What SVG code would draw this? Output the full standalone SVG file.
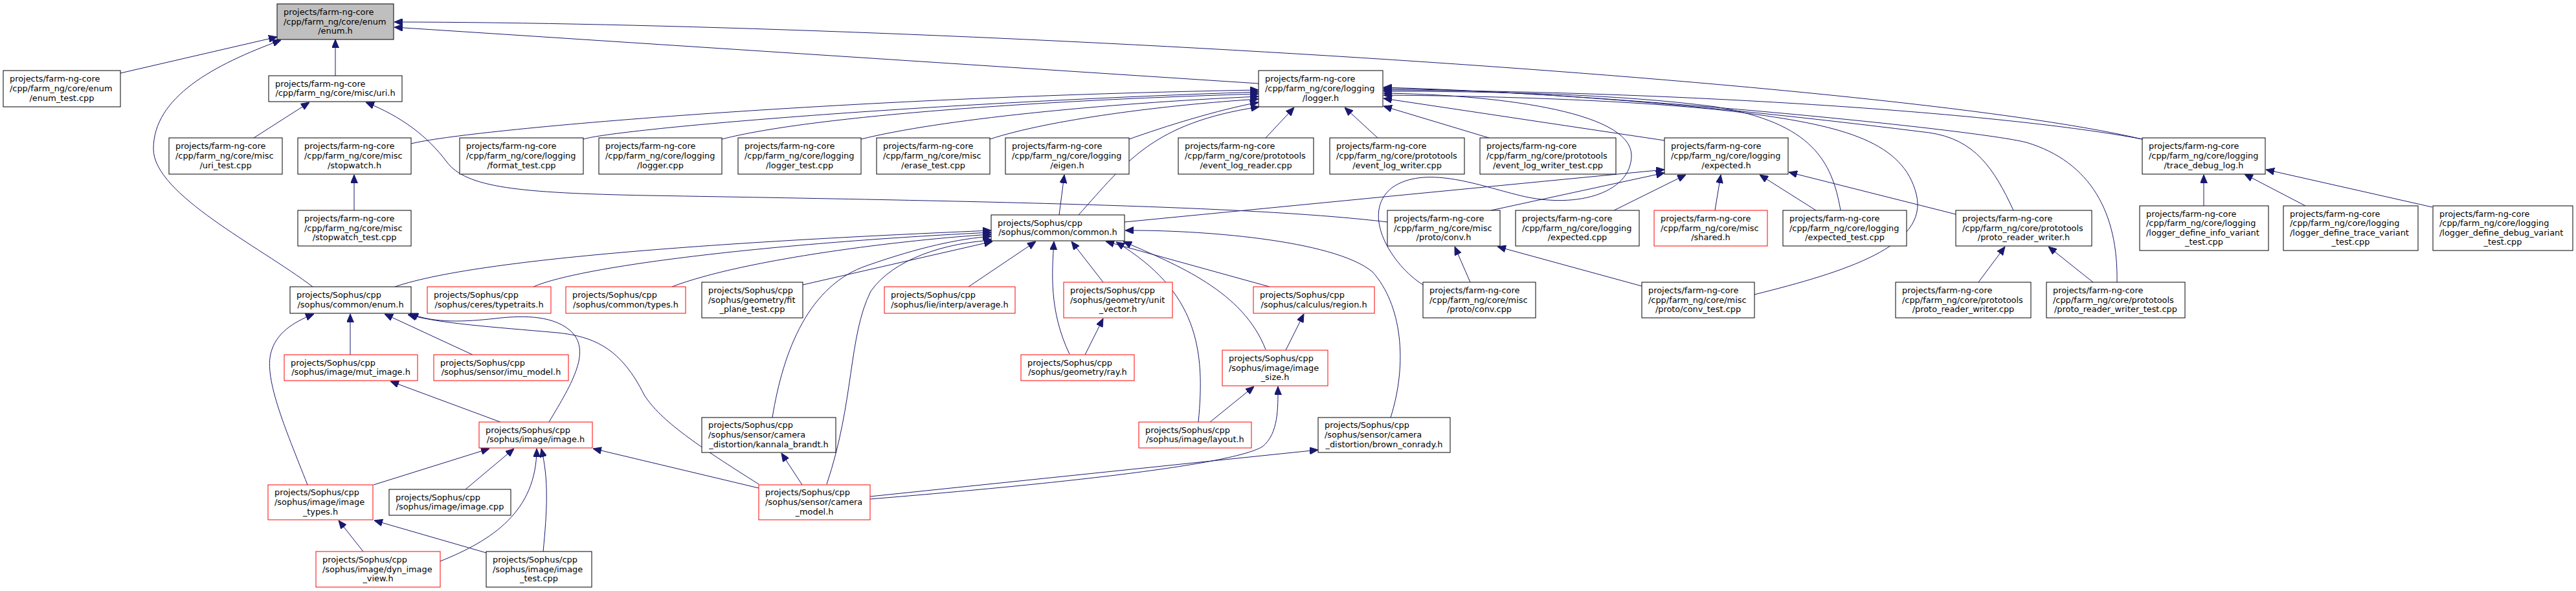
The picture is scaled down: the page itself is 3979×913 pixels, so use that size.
<svg xmlns="http://www.w3.org/2000/svg" width="3979" height="913" viewBox="0 0 3979 913">
<style>
.n rect{fill:#fff;stroke:#000;stroke-width:1}
.n.r rect{stroke:#ff0000}
.n.g rect{fill:#bfbfbf}
.n text{font-family:"DejaVu Sans",Verdana,sans-serif;font-size:12.9px;fill:#000}
.n text.c{text-anchor:middle}
#edges path{fill:none;stroke:#191970;stroke-width:1;marker-end:url(#ah)}
</style>
<defs>
<marker id="ah" viewBox="0 0 13 11" refX="13" refY="5.5" markerWidth="13" markerHeight="11" markerUnits="userSpaceOnUse" orient="auto"><path d="M0,0 L13,5.5 L0,11 z" fill="#191970" stroke="#191970" stroke-width="1"/></marker>
</defs>
<rect x="0" y="0" width="3979" height="913" fill="#fff"/>
<g id="edges">
<path d="M186,113 L428,57"/>
<path d="M518,117 L518,61"/>
<path d="M483,443 C400,380 237,300 237,230 C237,150 330,100 434,62"/>
<path d="M1944,129 L609,42"/>
<path d="M3309,215 C2900,120 1400,35 609,34"/>
<path d="M3309,215 C3100,175 2600,141 2137,139"/>
<path d="M635,222 C720,200 1300,150 1944,139"/>
<path d="M901,215 C950,200 1400,160 1944,142"/>
<path d="M1115,215 C1250,180 1600,155 1944,145"/>
<path d="M1330,215 C1450,185 1700,160 1944,149"/>
<path d="M1529,215 C1620,185 1800,162 1944,153"/>
<path d="M1744,215 C1800,195 1880,170 1944,158"/>
<path d="M1666,332 C1740,250 1780,190 1945,165"/>
<path d="M1955,213 L1999,166"/>
<path d="M2128,213 L2077,166"/>
<path d="M2300,213 L2137,164"/>
<path d="M2571,217 L2137,152"/>
<path d="M2198,440 C2150,410 2100,330 2150,290 C2200,255 2280,285 2340,300 C2430,325 2520,300 2520,240 C2520,170 2300,146 2137,144"/>
<path d="M2843,325 C2830,250 2800,190 2650,165 C2500,145 2300,141 2137,141"/>
<path d="M2710,455 C2850,420 2980,380 2960,300 C2940,220 2850,195 2700,175 C2550,155 2300,148 2137,147"/>
<path d="M3110,325 C3080,260 3050,215 2980,205 C2700,170 2400,140 2137,137"/>
<path d="M3270,436 C3272,330 3230,250 3130,220 C3050,200 2500,145 2137,135"/>
<path d="M1636,332 L1644,270"/>
<path d="M1737,343 L2571,262"/>
<path d="M2303,325 L2571,267"/>
<path d="M2493,325 L2604,270"/>
<path d="M2649,325 L2658,270"/>
<path d="M2805,325 L2718,270"/>
<path d="M3021,331 L2763,266"/>
<path d="M392,213 L478,158"/>
<path d="M2143,343 C1950,320 1600,312 1000,302 C800,298 720,290 690,250 C660,210 620,180 565,158"/>
<path d="M547,325 L547,270"/>
<path d="M610,443 C750,395 1200,370 1531,356"/>
<path d="M824,443 C900,410 1200,375 1531,359"/>
<path d="M1038,443 C1150,400 1400,370 1531,362"/>
<path d="M1240,440 L1533,373"/>
<path d="M1193,645 C1210,540 1250,440 1340,410 C1420,382 1480,369 1531,365"/>
<path d="M1277,748 C1320,620 1310,520 1345,450 C1380,400 1460,375 1534,371"/>
<path d="M1496,443 L1600,373"/>
<path d="M1652,547 C1620,480 1625,420 1628,373"/>
<path d="M1704,436 L1655,373"/>
<path d="M1961,443 L1708,373"/>
<path d="M1851,652 C1862,540 1850,450 1724,374"/>
<path d="M1955,540 C1920,450 1820,410 1735,373"/>
<path d="M2148,645 C2175,560 2165,470 2120,420 C2060,370 1850,355 1738,356"/>
<path d="M1676,548 L1704,492"/>
<path d="M1986,541 L2014,485"/>
<path d="M1869,652 L1937,597"/>
<path d="M1344,771 C1600,750 1900,720 1950,690 C1975,670 1974,630 1974,597"/>
<path d="M1344,767 L2036,695"/>
<path d="M1239,749 L1207,700"/>
<path d="M1172,754 L916,693"/>
<path d="M1172,748 C1080,690 1020,650 995,610 C960,540 920,520 861,514 C760,505 680,500 630,486"/>
<path d="M848,652 C885,590 915,540 880,510 C850,485 800,488 765,492 C720,497 670,500 633,484"/>
<path d="M541,548 L541,485"/>
<path d="M730,548 L594,485"/>
<path d="M475,749 C440,660 405,580 420,540 C430,510 460,495 485,485"/>
<path d="M773,652 L603,589"/>
<path d="M577,749 L756,693"/>
<path d="M719,756 L794,693"/>
<path d="M680,867 C760,835 829,790 829,693"/>
<path d="M839,852 C845,790 848,740 836,693"/>
<path d="M561,852 L523,804"/>
<path d="M751,854 L578,804"/>
<path d="M3404,318 L3404,270"/>
<path d="M3561,318 L3467,269"/>
<path d="M3757,320 L3500,262"/>
<path d="M3056,436 L3097,381"/>
<path d="M3233,436 L3164,381"/>
<path d="M2271,436 L2247,381"/>
<path d="M2536,442 L2313,381"/>
</g>
<g id="n_enum_h" class="n g"><rect x="428" y="6" width="180" height="55"/><text x="438" y="22.9">projects/farm-ng-core</text><text x="438" y="37.5">/cpp/farm_ng/core/enum</text><text class="c" x="518" y="52.1">/enum.h</text></g>
<g id="n_enum_test" class="n"><rect x="5" y="109" width="181" height="56"/><text x="15" y="126.4">projects/farm-ng-core</text><text x="15" y="141">/cpp/farm_ng/core/enum</text><text class="c" x="95.5" y="155.6">/enum_test.cpp</text></g>
<g id="n_uri_h" class="n"><rect x="415" y="117" width="206" height="40"/><text x="425" y="133.7">projects/farm-ng-core</text><text class="c" x="518" y="148.3">/cpp/farm_ng/core/misc/uri.h</text></g>
<g id="n_logger_h" class="n"><rect x="1944" y="109" width="192" height="56"/><text x="1954" y="126.4">projects/farm-ng-core</text><text x="1954" y="141">/cpp/farm_ng/core/logging</text><text class="c" x="2040" y="155.6">/logger.h</text></g>
<g id="n_uri_test" class="n"><rect x="261" y="213" width="175" height="56"/><text x="271" y="230.4">projects/farm-ng-core</text><text x="271" y="245">/cpp/farm_ng/core/misc</text><text class="c" x="348.5" y="259.6">/uri_test.cpp</text></g>
<g id="n_stopwatch_h" class="n"><rect x="460" y="213" width="175" height="56"/><text x="470" y="230.4">projects/farm-ng-core</text><text x="470" y="245">/cpp/farm_ng/core/misc</text><text class="c" x="547.5" y="259.6">/stopwatch.h</text></g>
<g id="n_format_test" class="n"><rect x="710" y="213" width="191" height="56"/><text x="720" y="230.4">projects/farm-ng-core</text><text x="720" y="245">/cpp/farm_ng/core/logging</text><text class="c" x="805.5" y="259.6">/format_test.cpp</text></g>
<g id="n_logger_cpp" class="n"><rect x="925" y="213" width="190" height="56"/><text x="935" y="230.4">projects/farm-ng-core</text><text x="935" y="245">/cpp/farm_ng/core/logging</text><text class="c" x="1020" y="259.6">/logger.cpp</text></g>
<g id="n_logger_test" class="n"><rect x="1140" y="213" width="190" height="56"/><text x="1150" y="230.4">projects/farm-ng-core</text><text x="1150" y="245">/cpp/farm_ng/core/logging</text><text class="c" x="1235" y="259.6">/logger_test.cpp</text></g>
<g id="n_erase_test" class="n"><rect x="1354" y="213" width="175" height="56"/><text x="1364" y="230.4">projects/farm-ng-core</text><text x="1364" y="245">/cpp/farm_ng/core/misc</text><text class="c" x="1441.5" y="259.6">/erase_test.cpp</text></g>
<g id="n_eigen_h" class="n"><rect x="1553" y="213" width="191" height="56"/><text x="1563" y="230.4">projects/farm-ng-core</text><text x="1563" y="245">/cpp/farm_ng/core/logging</text><text class="c" x="1648.5" y="259.6">/eigen.h</text></g>
<g id="n_event_log_reader" class="n"><rect x="1820" y="213" width="209" height="56"/><text x="1830" y="230.4">projects/farm-ng-core</text><text x="1830" y="245">/cpp/farm_ng/core/prototools</text><text class="c" x="1924.5" y="259.6">/event_log_reader.cpp</text></g>
<g id="n_event_log_writer" class="n"><rect x="2054" y="213" width="208" height="56"/><text x="2064" y="230.4">projects/farm-ng-core</text><text x="2064" y="245">/cpp/farm_ng/core/prototools</text><text class="c" x="2158" y="259.6">/event_log_writer.cpp</text></g>
<g id="n_event_log_writer_test" class="n"><rect x="2286" y="213" width="210" height="56"/><text x="2296" y="230.4">projects/farm-ng-core</text><text x="2296" y="245">/cpp/farm_ng/core/prototools</text><text class="c" x="2391" y="259.6">/event_log_writer_test.cpp</text></g>
<g id="n_expected_h" class="n"><rect x="2571" y="213" width="191" height="56"/><text x="2581" y="230.4">projects/farm-ng-core</text><text x="2581" y="245">/cpp/farm_ng/core/logging</text><text class="c" x="2666.5" y="259.6">/expected.h</text></g>
<g id="n_trace_debug_log_h" class="n"><rect x="3309" y="213" width="190" height="56"/><text x="3319" y="230.4">projects/farm-ng-core</text><text x="3319" y="245">/cpp/farm_ng/core/logging</text><text class="c" x="3404" y="259.6">/trace_debug_log.h</text></g>
<g id="n_stopwatch_test" class="n"><rect x="460" y="325" width="175" height="55"/><text x="470" y="341.9">projects/farm-ng-core</text><text x="470" y="356.5">/cpp/farm_ng/core/misc</text><text class="c" x="547.5" y="371.1">/stopwatch_test.cpp</text></g>
<g id="n_common_h" class="n"><rect x="1531" y="332" width="206" height="40"/><text x="1541" y="348.7">projects/Sophus/cpp</text><text class="c" x="1634" y="363.3">/sophus/common/common.h</text></g>
<g id="n_conv_h" class="n"><rect x="2143" y="325" width="174" height="55"/><text x="2153" y="341.9">projects/farm-ng-core</text><text x="2153" y="356.5">/cpp/farm_ng/core/misc</text><text class="c" x="2230" y="371.1">/proto/conv.h</text></g>
<g id="n_expected_cpp" class="n"><rect x="2341" y="325" width="191" height="55"/><text x="2351" y="341.9">projects/farm-ng-core</text><text x="2351" y="356.5">/cpp/farm_ng/core/logging</text><text class="c" x="2436.5" y="371.1">/expected.cpp</text></g>
<g id="n_shared_h" class="n r"><rect x="2555" y="325" width="175" height="55"/><text x="2565" y="341.9">projects/farm-ng-core</text><text x="2565" y="356.5">/cpp/farm_ng/core/misc</text><text class="c" x="2642.5" y="371.1">/shared.h</text></g>
<g id="n_expected_test" class="n"><rect x="2754" y="325" width="191" height="55"/><text x="2764" y="341.9">projects/farm-ng-core</text><text x="2764" y="356.5">/cpp/farm_ng/core/logging</text><text class="c" x="2849.5" y="371.1">/expected_test.cpp</text></g>
<g id="n_proto_reader_writer_h" class="n"><rect x="3021" y="325" width="210" height="55"/><text x="3031" y="341.9">projects/farm-ng-core</text><text x="3031" y="356.5">/cpp/farm_ng/core/prototools</text><text class="c" x="3126" y="371.1">/proto_reader_writer.h</text></g>
<g id="n_info_variant" class="n"><rect x="3305" y="318" width="199" height="69"/><text x="3315" y="334.6">projects/farm-ng-core</text><text x="3315" y="349.2">/cpp/farm_ng/core/logging</text><text x="3315" y="363.8">/logger_define_info_variant</text><text class="c" x="3404.5" y="378.4">_test.cpp</text></g>
<g id="n_trace_variant" class="n"><rect x="3527" y="318" width="208" height="69"/><text x="3537" y="334.6">projects/farm-ng-core</text><text x="3537" y="349.2">/cpp/farm_ng/core/logging</text><text x="3537" y="363.8">/logger_define_trace_variant</text><text class="c" x="3631" y="378.4">_test.cpp</text></g>
<g id="n_debug_variant" class="n"><rect x="3758" y="318" width="216" height="69"/><text x="3768" y="334.6">projects/farm-ng-core</text><text x="3768" y="349.2">/cpp/farm_ng/core/logging</text><text x="3768" y="363.8">/logger_define_debug_variant</text><text class="c" x="3866" y="378.4">_test.cpp</text></g>
<g id="n_sophus_enum_h" class="n"><rect x="448" y="443" width="187" height="41"/><text x="458" y="460.2">projects/Sophus/cpp</text><text class="c" x="541.5" y="474.8">/sophus/common/enum.h</text></g>
<g id="n_typetraits_h" class="n r"><rect x="660" y="443" width="191" height="41"/><text x="670" y="460.2">projects/Sophus/cpp</text><text class="c" x="755.5" y="474.8">/sophus/ceres/typetraits.h</text></g>
<g id="n_types_h" class="n r"><rect x="874" y="443" width="185" height="41"/><text x="884" y="460.2">projects/Sophus/cpp</text><text class="c" x="966.5" y="474.8">/sophus/common/types.h</text></g>
<g id="n_fit_plane_test" class="n"><rect x="1084" y="436" width="156" height="55"/><text x="1094" y="452.9">projects/Sophus/cpp</text><text x="1094" y="467.5">/sophus/geometry/fit</text><text class="c" x="1162" y="482.1">_plane_test.cpp</text></g>
<g id="n_average_h" class="n r"><rect x="1366" y="443" width="202" height="41"/><text x="1376" y="460.2">projects/Sophus/cpp</text><text class="c" x="1467" y="474.8">/sophus/lie/interp/average.h</text></g>
<g id="n_unit_vector_h" class="n r"><rect x="1643" y="436" width="168" height="55"/><text x="1653" y="452.9">projects/Sophus/cpp</text><text x="1653" y="467.5">/sophus/geometry/unit</text><text class="c" x="1727" y="482.1">_vector.h</text></g>
<g id="n_region_h" class="n r"><rect x="1936" y="443" width="187" height="41"/><text x="1946" y="460.2">projects/Sophus/cpp</text><text class="c" x="2029.5" y="474.8">/sophus/calculus/region.h</text></g>
<g id="n_conv_cpp" class="n"><rect x="2198" y="436" width="174" height="55"/><text x="2208" y="452.9">projects/farm-ng-core</text><text x="2208" y="467.5">/cpp/farm_ng/core/misc</text><text class="c" x="2285" y="482.1">/proto/conv.cpp</text></g>
<g id="n_conv_test" class="n"><rect x="2536" y="436" width="174" height="55"/><text x="2546" y="452.9">projects/farm-ng-core</text><text x="2546" y="467.5">/cpp/farm_ng/core/misc</text><text class="c" x="2623" y="482.1">/proto/conv_test.cpp</text></g>
<g id="n_proto_reader_writer_cpp" class="n"><rect x="2928" y="436" width="209" height="55"/><text x="2938" y="452.9">projects/farm-ng-core</text><text x="2938" y="467.5">/cpp/farm_ng/core/prototools</text><text class="c" x="3032.5" y="482.1">/proto_reader_writer.cpp</text></g>
<g id="n_proto_reader_writer_test" class="n"><rect x="3161" y="436" width="214" height="55"/><text x="3171" y="452.9">projects/farm-ng-core</text><text x="3171" y="467.5">/cpp/farm_ng/core/prototools</text><text class="c" x="3268" y="482.1">/proto_reader_writer_test.cpp</text></g>
<g id="n_mut_image_h" class="n r"><rect x="439" y="548" width="206" height="40"/><text x="449" y="564.7">projects/Sophus/cpp</text><text class="c" x="542" y="579.3">/sophus/image/mut_image.h</text></g>
<g id="n_imu_model_h" class="n r"><rect x="670" y="548" width="208" height="40"/><text x="680" y="564.7">projects/Sophus/cpp</text><text class="c" x="774" y="579.3">/sophus/sensor/imu_model.h</text></g>
<g id="n_ray_h" class="n r"><rect x="1577" y="548" width="175" height="40"/><text x="1587" y="564.7">projects/Sophus/cpp</text><text class="c" x="1664.5" y="579.3">/sophus/geometry/ray.h</text></g>
<g id="n_image_size_h" class="n r"><rect x="1888" y="541" width="163" height="55"/><text x="1898" y="557.9">projects/Sophus/cpp</text><text x="1898" y="572.5">/sophus/image/image</text><text class="c" x="1969.5" y="587.1">_size.h</text></g>
<g id="n_image_h" class="n r"><rect x="740" y="652" width="175" height="40"/><text x="750" y="668.7">projects/Sophus/cpp</text><text class="c" x="827.5" y="683.3">/sophus/image/image.h</text></g>
<g id="n_kannala_brandt_h" class="n"><rect x="1084" y="645" width="207" height="54"/><text x="1094" y="661.4">projects/Sophus/cpp</text><text x="1094" y="676">/sophus/sensor/camera</text><text class="c" x="1187.5" y="690.6">_distortion/kannala_brandt.h</text></g>
<g id="n_layout_h" class="n r"><rect x="1759" y="652" width="174" height="40"/><text x="1769" y="668.7">projects/Sophus/cpp</text><text class="c" x="1846" y="683.3">/sophus/image/layout.h</text></g>
<g id="n_brown_conrady_h" class="n"><rect x="2036" y="645" width="204" height="54"/><text x="2046" y="661.4">projects/Sophus/cpp</text><text x="2046" y="676">/sophus/sensor/camera</text><text class="c" x="2138" y="690.6">_distortion/brown_conrady.h</text></g>
<g id="n_image_types_h" class="n r"><rect x="414" y="749" width="162" height="54"/><text x="424" y="765.4">projects/Sophus/cpp</text><text x="424" y="780">/sophus/image/image</text><text class="c" x="495" y="794.6">_types.h</text></g>
<g id="n_image_cpp" class="n"><rect x="601" y="756" width="188" height="40"/><text x="611" y="772.7">projects/Sophus/cpp</text><text class="c" x="695" y="787.3">/sophus/image/image.cpp</text></g>
<g id="n_camera_model_h" class="n r"><rect x="1172" y="749" width="172" height="54"/><text x="1182" y="765.4">projects/Sophus/cpp</text><text x="1182" y="780">/sophus/sensor/camera</text><text class="c" x="1258" y="794.6">_model.h</text></g>
<g id="n_dyn_image_view_h" class="n r"><rect x="488" y="852" width="192" height="55"/><text x="498" y="868.9">projects/Sophus/cpp</text><text x="498" y="883.5">/sophus/image/dyn_image</text><text class="c" x="584" y="898.1">_view.h</text></g>
<g id="n_image_test" class="n"><rect x="751" y="852" width="163" height="55"/><text x="761" y="868.9">projects/Sophus/cpp</text><text x="761" y="883.5">/sophus/image/image</text><text class="c" x="832.5" y="898.1">_test.cpp</text></g>
</svg>
